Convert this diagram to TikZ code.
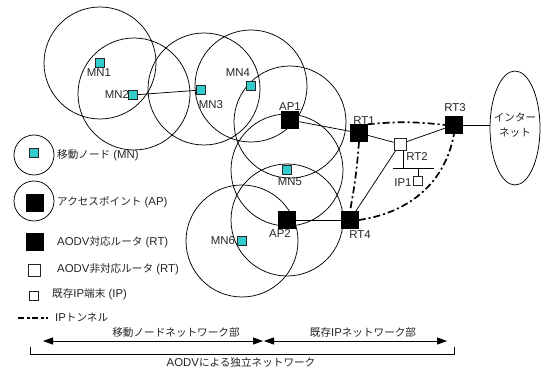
\documentclass[tikz,border=0pt]{standalone}
\usepackage{fontspec}
\setmainfont{Liberation Sans}
\newfontfamily\jp{Noto Sans CJK JP}[Scale=0.93]
\usetikzlibrary{arrows.meta,shapes.geometric}
\definecolor{mncyan}{RGB}{51,204,204}
\begin{document}
\begin{tikzpicture}[x=1pt,y=-1pt,
  rng/.style={circle,draw,line width=0.75pt,minimum size=112pt,inner sep=0pt},
  legrng/.style={circle,draw,line width=0.75pt,minimum size=40pt,inner sep=0pt},
  mn/.style={draw=black!85,fill=mncyan,line width=0.7pt,minimum size=9pt,inner sep=0pt},
  blk/.style={draw=black,fill=black,minimum size=17pt,inner sep=0pt},
  wht/.style={draw=black!85,fill=white,line width=0.7pt,minimum size=12pt,inner sep=0pt},
  ipt/.style={draw=black!85,fill=white,line width=0.7pt,minimum size=8.5pt,inner sep=0pt},
  lbl/.style={inner sep=0pt,text=black!85,font=\fontsize{11.4}{13}\selectfont},
  conn/.style={line width=0.75pt},
  tun/.style={line width=1.7pt,dash pattern=on 7pt off 3pt on 2pt off 3pt},
  harrow/.style={line width=0.8pt,{Triangle[length=10pt,width=7pt]}-{Triangle[length=10pt,width=7pt]}}
]
\useasboundingbox (0,0) rectangle (541,371);
\fill[white] (0,0) rectangle (541,371);

% coverage circles
\node[rng] (c1) at (100,63) {};
\node[rng] (c2) at (134,94) {};
\node[rng] (c3) at (204,89) {};
\node[rng] (c4) at (251,86) {};
\node[rng] (c5) at (290,122) {};
\node[rng] (c6) at (287,170) {};
\node[rng] (c7) at (287,220) {};
\node[rng] (c8) at (242,241) {};

% internet
\node[ellipse,draw,line width=0.75pt,minimum width=50pt,minimum height=114pt,inner sep=0pt] (inet) at (515,128) {};
\node[lbl,align=center,font=\fontsize{11.4}{15}\selectfont] (inettxt) at (515,125) {\jp インター\\\jp ネット};

% nodes
\node[mn] (mn1) at (100,63) {};
\node[mn] (mn2) at (133,95) {};
\node[mn] (mn3) at (201,90) {};
\node[mn] (mn4) at (251,86) {};
\node[mn] (mn5) at (287,170) {};
\node[mn] (mn6) at (242,241) {};

\node[blk] (ap1) at (290,120) {};
\node[blk] (ap2) at (287,220) {};
\node[blk] (rt1) at (359,133) {};
\node[blk] (rt3) at (454,125) {};
\node[blk] (rt4) at (350,220) {};
\node[wht] (rt2) at (400,144) {};
\node[ipt] (ip1) at (418,181) {};

\coordinate (busL) at (393,168);
\coordinate (busR) at (434,168);
\coordinate (busA) at (403,168);
\coordinate (busB) at (418,168);

% solid connectors
\draw[conn] (mn2) -- (mn3);
\draw[conn] (ap1) -- (rt1);
\draw[conn] (ap2) -- (rt4);
\draw[conn] (rt1) -- (rt2);
\draw[conn] (rt2) -- (rt3);
\draw[conn] (rt2) -- (rt4);
\draw[conn] (rt3.east) -- (rt3.east -| inet.west);
\draw[conn] (busL) -- (busR);
\draw[conn] (rt2.south -| busA) -- (busA);
\draw[conn] (busB) -- (ip1.north);

% tunnels
\draw[tun] (rt1.north east) to[bend left=6] (rt3.west);
\draw[tun] (rt1.south) to[bend left=3] (rt4.north);
\draw[tun] (rt4.east) to[out=8,in=-100] (rt3.south);

% redraw nodes on top
\node[mn] at (mn2) {};
\node[mn] at (mn3) {};
\node[blk] at (ap1) {};
\node[blk] at (ap2) {};
\node[blk] at (rt1) {};
\node[blk] at (rt3) {};
\node[blk] at (rt4) {};
\node[wht] at (rt2) {};

% labels
\node[lbl] (lmn1) at (99,73) {MN1};
\node[lbl] (lmn2) at (117,95) {MN2};
\node[lbl] (lmn3) at (211,105) {MN3};
\node[lbl] (lmn4) at (238,73) {MN4};
\node[lbl] (lmn5) at (290,182) {MN5};
\node[lbl] (lmn6) at (223,241) {MN6};
\node[lbl] (lap1) at (290,107) {AP1};
\node[lbl] (lap2) at (280,234) {AP2};
\node[lbl] (lrt1) at (364,121) {RT1};
\node[lbl] (lrt2) at (417,157) {RT2};
\node[lbl] (lrt3) at (455,108) {RT3};
\node[lbl] (lrt4) at (360,235) {RT4};
\node[lbl] (lip1) at (403,183) {IP1};

% legend
\node[legrng] (lg1) at (34,155) {};
\node[mn] (lgmn) at (34,153) {};
\node[lbl,anchor=west] (lgt1) at (57,155) {{\jp 移動ノード} (MN)};
\node[legrng] (lg2) at (34,201) {};
\node[blk] (lgap) at (35,203) {};
\node[lbl,anchor=west] (lgt2) at (57,202) {{\jp アクセスポイント} (AP)};
\node[blk] (lgrt) at (35,242) {};
\node[lbl,anchor=west] (lgt3) at (57,242) {AODV{\jp 対応ルータ} (RT)};
\node[wht] (lgrt2) at (34,270) {};
\node[lbl,anchor=west] (lgt4) at (57,269) {AODV{\jp 非対応ルータ} (RT)};
\node[ipt] (lgip) at (34,296) {};
\node[lbl,anchor=west] (lgt5) at (52,294) {{\jp 既存}IP{\jp 端末} (IP)};
\coordinate (lgtA) at (18,318);
\coordinate (lgtB) at (48,318);
\draw[line width=1.4pt,dash pattern=on 6pt off 2.5pt on 3pt off 2.5pt] (lgtA) -- (lgtB);
\node[lbl,anchor=west] (lgt6) at (55,317) {IP{\jp トンネル}};

% bottom arrows
\coordinate (arA) at (43,341);
\coordinate (arM) at (263,341);
\coordinate (arN) at (264,341);
\coordinate (arB) at (447,341);
\draw[harrow] (arA) -- (arM);
\draw[harrow] (arN) -- (arB);
\node[lbl] (bt1) at (176,332) {\jp 移動ノードネットワーク部};
\node[lbl] (bt2) at (363,332) {{\jp 既存}IP{\jp ネットワーク部}};
\coordinate (brA) at (30,347);
\coordinate (brB) at (454,347);
\draw[line width=0.8pt] (brA) -- (brA |- 0,354) -- (brB |- 0,354) -- (brB);
\node[lbl] (bt3) at (241,362) {AODV{\jp による独立ネットワーク}};
\end{tikzpicture}
\end{document}
